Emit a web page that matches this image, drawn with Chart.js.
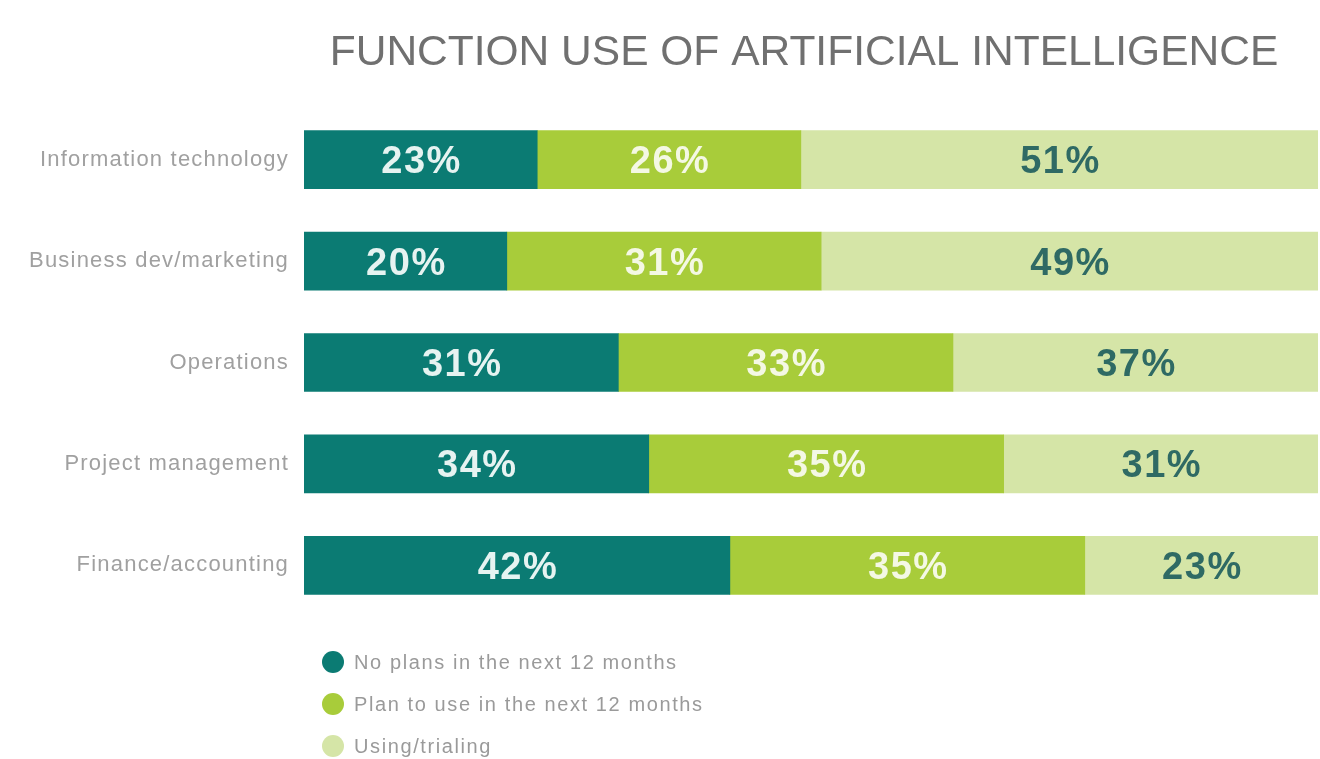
<!DOCTYPE html>
<html>
<head>
<meta charset="utf-8">
<script src="https://cdn.jsdelivr.net/npm/chart.js@4/dist/chart.umd.min.js"></script>
<style>
  html, body { margin: 0; padding: 0; background: #ffffff; }
  #wrap { width: 1320px; height: 759px; position: relative; }
</style>
</head>
<body>
<div id="wrap"><canvas id="c" width="1320" height="759"></canvas></div>
<script>
const chartTitle = 'FUNCTION USE OF ARTIFICIAL INTELLIGENCE';
const categories = ['Information technology', 'Business dev/marketing', 'Operations', 'Project management', 'Finance/accounting'];
const seriesNames = ['No plans in the next 12 months', 'Plan to use in the next 12 months', 'Using/trialing'];
const noPlans = [23, 20, 31, 34, 42];
const planToUse = [26, 31, 33, 35, 35];
const usingNow = [51, 49, 37, 31, 23];

const colors = ['#0b7b73', '#a8cc3a', '#d5e5a7'];
const labelColors = ['#e6f3f1', '#f4f8e4', '#2f6a64'];

const spacingSetup = {
  id: 'spacingSetup',
  beforeDraw(chart) {
    chart.ctx.letterSpacing = '1.2px';
  }
};

const titlePlugin = {
  id: 'titleText',
  afterDraw(chart) {
    const ctx = chart.ctx;
    ctx.save();
    ctx.letterSpacing = '0px';
    ctx.font = '42.5px "Liberation Sans", Arial, sans-serif';
    ctx.fillStyle = '#707070';
    ctx.textAlign = 'center';
    ctx.textBaseline = 'alphabetic';
    ctx.fillText(chartTitle, 804, 65);
    ctx.restore();
  }
};

const valueLabels = {
  id: 'valueLabels',
  afterDatasetsDraw(chart) {
    const ctx = chart.ctx;
    const area = chart.chartArea;
    ctx.save();
    ctx.letterSpacing = '1.5px';
    ctx.font = 'bold 38px "Liberation Sans", Arial, sans-serif';
    ctx.textAlign = 'center';
    ctx.textBaseline = 'middle';
    chart.data.datasets.forEach((ds, di) => {
      const meta = chart.getDatasetMeta(di);
      meta.data.forEach((el, i) => {
        const x0 = Math.max(Math.min(el.base, el.x), area.left);
        const x1 = Math.min(Math.max(el.base, el.x), area.right);
        ctx.fillStyle = labelColors[di];
        ctx.fillText(ds.data[i] + '%', (x0 + x1) / 2 + 1, el.y + 3);
      });
    });
    ctx.restore();
  }
};

const customLegend = {
  id: 'customLegend',
  afterDraw(chart) {
    const ctx = chart.ctx;
    ctx.save();
    ctx.letterSpacing = '1.6px';
    ctx.font = '20px "Liberation Sans", Arial, sans-serif';
    ctx.textBaseline = 'middle';
    ctx.textAlign = 'left';
    chart.data.datasets.forEach((ds, i) => {
      const y = 662 + i * 42;
      ctx.beginPath();
      ctx.arc(333, y, 11, 0, Math.PI * 2);
      ctx.fillStyle = ds.backgroundColor;
      ctx.fill();
      ctx.fillStyle = '#9a9a9a';
      ctx.fillText(ds.label, 354, y + 1);
    });
    ctx.restore();
  }
};

new Chart(document.getElementById('c'), {
  type: 'bar',
  data: {
    labels: categories,
    datasets: [
      { label: seriesNames[0], data: noPlans, backgroundColor: colors[0] },
      { label: seriesNames[1], data: planToUse, backgroundColor: colors[1] },
      { label: seriesNames[2], data: usingNow, backgroundColor: colors[2] }
    ]
  },
  options: {
    indexAxis: 'y',
    responsive: false,
    animation: false,
    maintainAspectRatio: false,
    layout: { padding: { top: 109, bottom: 143, left: 0, right: 2 } },
    datasets: { bar: { barThickness: 58, borderWidth: 0 } },
    scales: {
      x: { stacked: true, min: 0, max: 100, display: false },
      y: {
        stacked: true,
        grid: { display: false, drawTicks: false },
        border: { display: false },
        ticks: {
          padding: 15,
          color: '#a0a0a0',
          font: { family: '"Liberation Sans", Arial, sans-serif', size: 22 }
        },
        afterFit(scale) { scale.width = 304; }
      }
    },
    plugins: {
      legend: { display: false },
      title: { display: false },
      tooltip: { enabled: false }
    }
  },
  plugins: [spacingSetup, titlePlugin, valueLabels, customLegend]
});
</script>
</body>
</html>
